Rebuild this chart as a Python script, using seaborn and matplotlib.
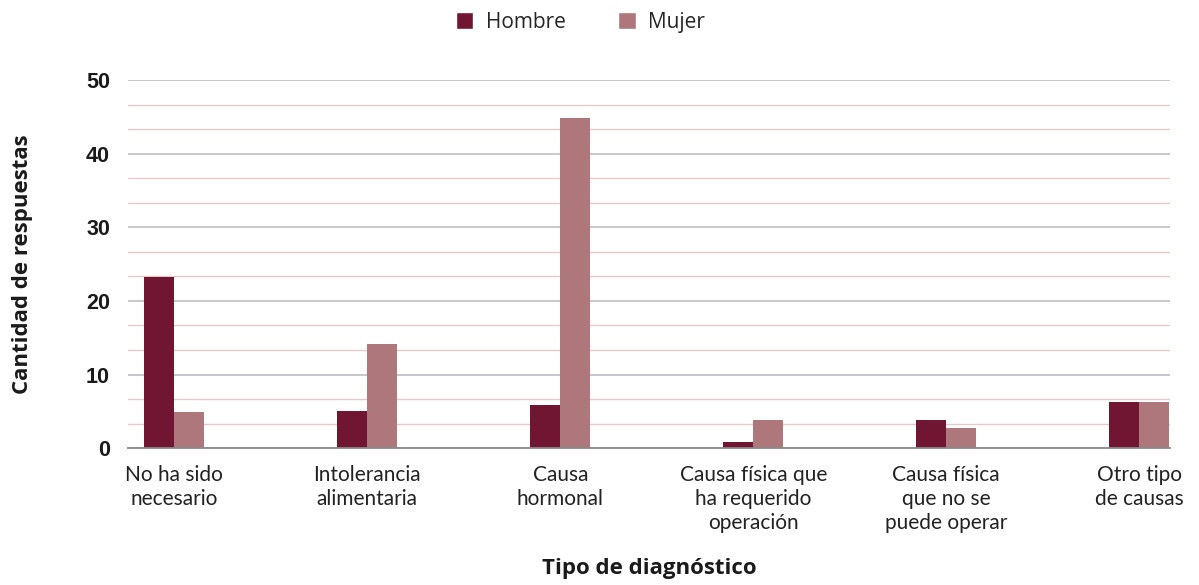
import pandas as pd
import matplotlib.pyplot as plt
import seaborn as sns
from matplotlib.ticker import MultipleLocator
from matplotlib.patches import Patch

categorias = ['No ha sido\nnecesario', 'Intolerancia\nalimentaria', 'Causa\nhormonal',
              'Causa física que\nha requerido\noperación', 'Causa física\nque no se\npuede operar',
              'Otro tipo\nde causas']
hombre = [23.3, 5, 5.8, 0.8, 3.8, 6.2]
mujer = [4.9, 14.1, 44.8, 3.8, 2.8, 6.2]
series = ['Hombre', 'Mujer']
colores = {'Hombre': '#701632', 'Mujer': '#ad777b'}

df = pd.DataFrame({
    'categoria': categorias * 2,
    'sexo': ['Hombre'] * len(categorias) + ['Mujer'] * len(categorias),
    'valor': hombre + mujer,
})

sns.set_style('white')
plt.rcParams['font.family'] = ['Liberation Sans', 'DejaVu Sans']

fig = plt.figure(figsize=(11.99, 5.85), dpi=100)
ax = fig.add_axes([0.1068, 0.234, 0.869, 0.629])

sns.barplot(data=df, x='categoria', y='valor', hue='sexo', hue_order=series,
            palette=colores, width=0.31, saturation=1, linewidth=0, ax=ax,
            legend=False, zorder=3)

ax.set_xlim(-0.24, 5.16)
ax.set_ylim(0, 50)
ax.yaxis.set_major_locator(MultipleLocator(10))
ax.yaxis.set_minor_locator(MultipleLocator(10 / 3))
ax.grid(axis='y', which='major', color='#bdbdc2', linewidth=1.2, zorder=0)
ax.grid(axis='y', which='minor', color='#e6c9c9', linewidth=1.0, zorder=0)
ax.grid(axis='x', visible=False)
for s in ['top', 'right', 'left']:
    ax.spines[s].set_visible(False)
ax.spines['bottom'].set_color('#8a8a8a')
ax.spines['bottom'].set_linewidth(1.3)
ax.spines['bottom'].set_zorder(4)
ax.tick_params(axis='both', which='both', length=0)
ax.tick_params(axis='x', pad=12)
ax.tick_params(axis='y', pad=13)

for lab in ax.get_yticklabels():
    lab.set_fontsize(15.5)
    lab.set_fontweight('bold')
    lab.set_color('#1a1a1a')
for lab in ax.get_xticklabels():
    lab.set_fontsize(15)
    lab.set_family('Lato')
    lab.set_color('#222222')
    lab.set_linespacing(1.25)

ax.set_xlabel('Tipo de diagnóstico', fontsize=16, fontweight='bold', family='Open Sans',
              color='#1a1a1a', labelpad=18)
ax.set_ylabel('Cantidad de respuestas', fontsize=16, fontweight='bold', family='Open Sans',
              color='#1a1a1a', labelpad=38)

handles = [Patch(facecolor=colores[s], label=s) for s in series]
fig.legend(handles=handles, loc='upper center', bbox_to_anchor=(0.484, 1.012), ncol=2,
           frameon=False, handlelength=0.85, handleheight=0.85, columnspacing=2.5,
           handletextpad=0.6, prop={'family': 'Open Sans', 'size': 15})

fig.savefig('out.png', dpi=100)
